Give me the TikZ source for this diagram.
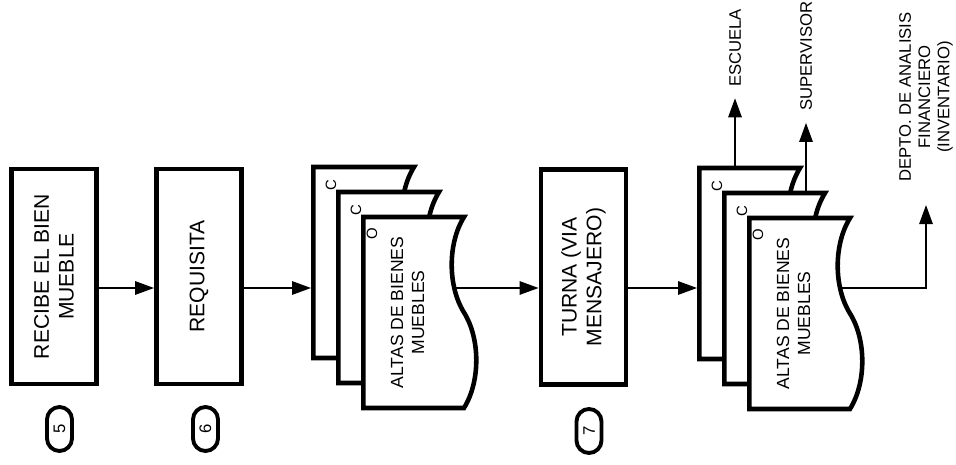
\documentclass[tikz,border=0pt]{standalone}
\usepackage{fontspec}
\setmainfont{Liberation Sans}
\usetikzlibrary{arrows.meta,shapes.symbols,backgrounds}
\tikzset{
  procbox/.style={
    draw=black,
    line width=2.8pt,
    fill=white,
    rotate=90,
    align=center,
    minimum width=4.3cm,
    minimum height=1.7cm,
    font=\fontsize{12}{14}\selectfont
  },
  stepnum/.style={
    draw=black,
    line width=2.2pt,
    rounded corners=0.25cm,
    rotate=90,
    minimum width=0.88cm,
    minimum height=0.5cm,
    inner sep=0pt,
    font=\fontsize{9.5}{10}\selectfont
  },
  docsheet/.style={
    tape,
    tape bend top=none,
    tape bend bottom=in and out,
    tape bend height=14pt,
    draw=black,
    line width=2.6pt,
    fill=white,
    rotate=90,
    align=center,
    minimum width=3.82cm,
    minimum height=2.26cm,
    font=\fontsize{10}{12}\selectfont
  },
  copymark/.style={rotate=90,inner sep=0pt,font=\fontsize{8.5}{9}\selectfont},
  destlabel/.style={rotate=90,inner sep=0pt,align=center,font=\fontsize{9.5}{11}\selectfont},
  flow/.style={-{Triangle[length=3.8mm,width=2.7mm]},line width=0.8pt}
}

\begin{document}
\begin{tikzpicture}[x=0.02cm,y=-0.02cm]
  \useasboundingbox (0,0) rectangle (956,465);
  \coordinate (flowline) at (0,288);
  % pasos
  \node[procbox] (recibe) at (54,276.5) {RECIBE EL BIEN\\MUEBLE};
  \node[procbox] (requisita) at (199,276.5) {REQUISITA};
  \node[procbox] (turna) at (583.5,277) {TURNA (VIA\\MENSAJERO)};
  \node[stepnum] (n5) at (59.5,429) {5};
  \node[stepnum] (n6) at (205.5,429) {6};
  \node[stepnum] (n7) at (589,431) {7};
  % altas, primer juego
  \node[docsheet] (altasA1) at (357.5,262.5) {};
  \node[docsheet] (altasA2) at (382.5,287.5) {};
  \node[docsheet] (altasA3) at (407.5,312.5) {ALTAS DE BIENES\\MUEBLES};
  \node[copymark] (cA1) at ([shift={(20,20)}]altasA1.north east) {C};
  \node[copymark] (cA2) at ([shift={(20,20)}]altasA2.north east) {C};
  \node[copymark] (oA3) at ([shift={(11,19)}]altasA3.north east) {O};
  % altas, segundo juego
  \node[docsheet] (altasB1) at (743.5,263.5) {};
  \node[docsheet] (altasB2) at (768.5,288.5) {};
  \node[docsheet] (altasB3) at (793.5,313.5) {ALTAS DE BIENES\\MUEBLES};
  \node[copymark] (cB1) at ([shift={(20,20)}]altasB1.north east) {C};
  \node[copymark] (cB2) at ([shift={(20,20)}]altasB2.north east) {C};
  \node[copymark] (oB3) at ([shift={(11,19)}]altasB3.north east) {O};
  % destinos
  \node[destlabel] (escuela) at (735,48) {ESCUELA};
  \node[destlabel] (supervisor) at (806,56) {SUPERVISOR};
  \node[destlabel] (depto) at (926,97) {DEPTO. DE ANALISIS\\FINANCIERO\\(INVENTARIO)};
  \draw[flow] (recibe.south |- flowline) -- (requisita.north |- flowline);
  \draw[flow] (requisita.south |- flowline) -- (altasA1.north |- flowline);
  \draw[flow] (turna.south |- flowline) -- (altasB1.north |- flowline);
  \draw[flow,shorten >=0.22cm] (altasB1.east -| escuela) -- (escuela.west);
  \draw[flow,shorten >=0.24cm] (altasB2.east -| supervisor) -- (supervisor.west);
  \begin{pgfonlayer}{background}
    \draw[flow] (altasA3.center |- flowline) -- (turna.north |- flowline);
    \draw[flow,shorten >=0.46cm] (altasB3.center |- flowline) -| (depto.west);
  \end{pgfonlayer}
\end{tikzpicture}
\end{document}
